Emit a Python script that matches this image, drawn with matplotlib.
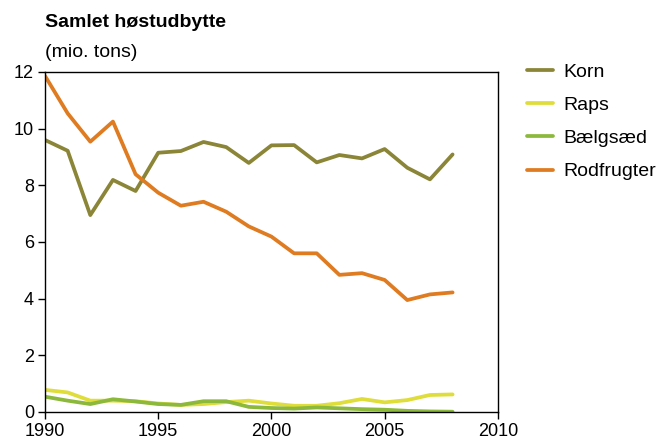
import matplotlib.pyplot as plt

plt.rcParams['font.family'] = ['Liberation Sans', 'DejaVu Sans']

years = list(range(1990, 2009))
korn = [9.6, 9.22, 6.95, 8.19, 7.8, 9.15, 9.21, 9.53, 9.35, 8.79,
        9.41, 9.42, 8.81, 9.07, 8.95, 9.28, 8.62, 8.21, 9.09]
raps = [0.78, 0.69, 0.4, 0.4, 0.38, 0.3, 0.25, 0.28, 0.35, 0.4,
        0.3, 0.22, 0.22, 0.31, 0.46, 0.34, 0.42, 0.6, 0.62]
baelgsaed = [0.54, 0.4, 0.28, 0.45, 0.37, 0.28, 0.25, 0.38, 0.38, 0.18,
             0.14, 0.12, 0.16, 0.13, 0.1, 0.08, 0.04, 0.02, 0.01]
rodfrugter = [11.86, 10.54, 9.54, 10.25, 8.39, 7.74, 7.28, 7.42, 7.07, 6.55,
              6.19, 5.6, 5.6, 4.84, 4.9, 4.66, 3.95, 4.15, 4.22]

series = [('Korn', korn, '#8a8537'),
          ('Raps', raps, '#dfdd3a'),
          ('Bælgsæd', baelgsaed, '#8cb93b'),
          ('Rodfrugter', rodfrugter, '#df7b20')]

fig = plt.figure(figsize=(6.64, 4.43), dpi=100)
ax = fig.add_axes((0.0678, 0.07, 0.682, 0.7675))

for name, vals, col in series:
    ax.plot(years, vals, color=col, lw=2.7, label=name, solid_capstyle='round')

ax.set_xlim(1990, 2010)
ax.set_ylim(0, 12)
ax.set_xticks([1990, 1995, 2000, 2005, 2010])
ax.set_yticks([0, 2, 4, 6, 8, 10, 12])
ax.tick_params(direction='out', length=5, width=1, labelsize=13, pad=3)
for s in ax.spines.values():
    s.set_linewidth(1)

fig.text(0.0678, 0.939, 'Samlet høstudbytte', fontsize=14, fontweight='bold')
fig.text(0.0678, 0.871, '(mio. tons)', fontsize=14)

ax.legend(loc='upper left', bbox_to_anchor=(0.794, 0.857), bbox_transform=fig.transFigure,
          frameon=False, fontsize=14, handlelength=1.35, handletextpad=0.5,
          labelspacing=0.8, borderaxespad=0, borderpad=0)

fig.savefig('out.png', dpi=100)
